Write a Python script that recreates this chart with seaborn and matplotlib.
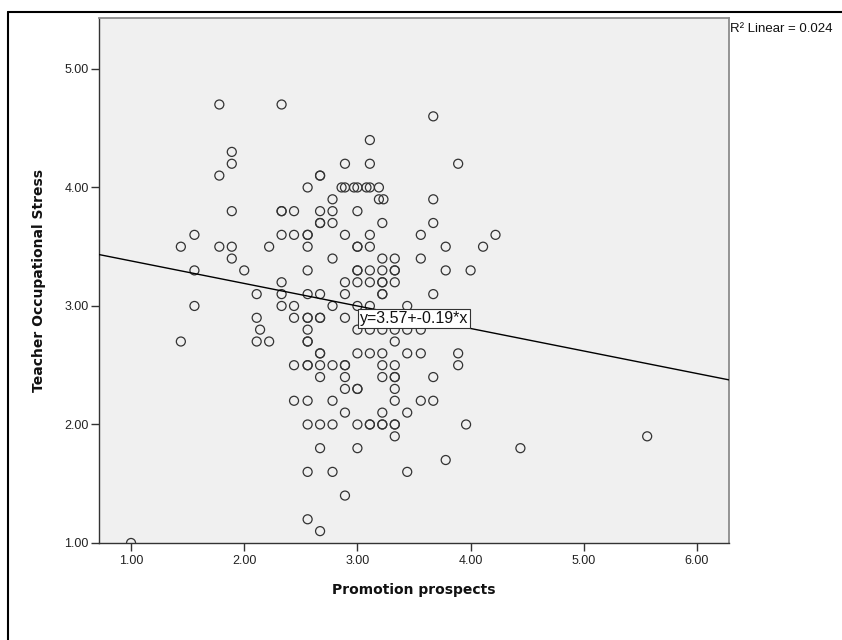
# -*- coding: utf-8 -*-
"""
Scatter plot of Promotion prospects vs Teacher Occupational Stress
with a linear fit line (SPSS-like look).
"""

import numpy as np
import matplotlib.pyplot as plt
from matplotlib.lines import Line2D
import seaborn as sns

# Points, one line per stress level
promotion = [
    1.78, 2.33,
    3.67,
    3.11,
    1.89,
    1.89, 2.89, 3.11, 3.89,
    1.78, 2.67, 2.67,
    2.56, 2.86, 2.89, 2.97, 3.00, 3.08, 3.11, 3.19,
    2.78, 3.19, 3.23, 3.67,
    1.89, 2.33, 2.33, 2.44, 2.67, 2.78, 3.00,
    2.67, 2.67, 2.78, 3.22, 3.67,
    1.56, 2.33, 2.44, 2.56, 2.56, 2.89, 3.11, 3.56, 4.22,
    1.44, 1.78, 1.89, 2.22, 2.56, 3.00, 3.00, 3.11, 3.78, 4.11,
    1.89, 2.78, 3.22, 3.33, 3.56,
    1.56, 2.00, 2.56, 3.00, 3.00, 3.11, 3.22, 3.33, 3.33, 3.78, 4.00,
    2.33, 2.89, 3.00, 3.11, 3.22, 3.22, 3.33,
    2.11, 2.33, 2.56, 2.67, 2.89, 3.22, 3.22, 3.67,
    1.56, 2.33, 2.44, 2.78, 3.00, 3.11, 3.44,
    2.11, 2.44, 2.56, 2.56, 2.67, 2.67, 2.89,
    2.14, 2.56, 3.00, 3.11, 3.22, 3.33, 3.44, 3.56,
    1.44, 2.11, 2.22, 2.56, 2.56, 3.33,
    2.67, 2.67, 3.00, 3.11, 3.22, 3.44, 3.56, 3.89,
    2.44, 2.56, 2.56, 2.67, 2.78, 2.89, 2.89, 3.22, 3.33, 3.89,
    2.67, 2.89, 3.22, 3.33, 3.33, 3.67,
    2.89, 3.00, 3.00, 3.33,
    2.44, 2.56, 2.78, 3.33, 3.56, 3.67,
    2.89, 3.22, 3.44,
    2.56, 2.67, 2.78, 3.00, 3.11, 3.11, 3.22, 3.22, 3.33, 3.33, 3.96,
    3.33, 5.56,
    2.67, 3.00, 4.44,
    3.78,
    2.56, 2.78, 3.44,
    2.89,
    2.56,
    2.67,
    1.00,
]

stress = [
    4.7, 4.7,
    4.6,
    4.4,
    4.3,
    4.2, 4.2, 4.2, 4.2,
    4.1, 4.1, 4.1,
    4.0, 4.0, 4.0, 4.0, 4.0, 4.0, 4.0, 4.0,
    3.9, 3.9, 3.9, 3.9,
    3.8, 3.8, 3.8, 3.8, 3.8, 3.8, 3.8,
    3.7, 3.7, 3.7, 3.7, 3.7,
    3.6, 3.6, 3.6, 3.6, 3.6, 3.6, 3.6, 3.6, 3.6,
    3.5, 3.5, 3.5, 3.5, 3.5, 3.5, 3.5, 3.5, 3.5, 3.5,
    3.4, 3.4, 3.4, 3.4, 3.4,
    3.3, 3.3, 3.3, 3.3, 3.3, 3.3, 3.3, 3.3, 3.3, 3.3, 3.3,
    3.2, 3.2, 3.2, 3.2, 3.2, 3.2, 3.2,
    3.1, 3.1, 3.1, 3.1, 3.1, 3.1, 3.1, 3.1,
    3.0, 3.0, 3.0, 3.0, 3.0, 3.0, 3.0,
    2.9, 2.9, 2.9, 2.9, 2.9, 2.9, 2.9,
    2.8, 2.8, 2.8, 2.8, 2.8, 2.8, 2.8, 2.8,
    2.7, 2.7, 2.7, 2.7, 2.7, 2.7,
    2.6, 2.6, 2.6, 2.6, 2.6, 2.6, 2.6, 2.6,
    2.5, 2.5, 2.5, 2.5, 2.5, 2.5, 2.5, 2.5, 2.5, 2.5,
    2.4, 2.4, 2.4, 2.4, 2.4, 2.4,
    2.3, 2.3, 2.3, 2.3,
    2.2, 2.2, 2.2, 2.2, 2.2, 2.2,
    2.1, 2.1, 2.1,
    2.0, 2.0, 2.0, 2.0, 2.0, 2.0, 2.0, 2.0, 2.0, 2.0, 2.0,
    1.9, 1.9,
    1.8, 1.8, 1.8,
    1.7,
    1.6, 1.6, 1.6,
    1.4,
    1.2,
    1.1,
    1.0,
]

# Fit line as printed on the chart
intercept = 3.57
slope = -0.19
fit_label = "y=3.57+-0.19*x"
r2_label = "R\u00b2 Linear = 0.024"

x_ticks = [1, 2, 3, 4, 5, 6]
y_ticks = [1, 2, 3, 4, 5]
x_tick_labels = ["1.00", "2.00", "3.00", "4.00", "5.00", "6.00"]
y_tick_labels = ["1.00", "2.00", "3.00", "4.00", "5.00"]

X_LIM = (0.717, 6.283)
Y_LIM = (1.0, 5.43)


def setup_style():
    """Seaborn style first, then fonts (set_style resets font.family)."""
    sns.set_style("ticks", {"axes.facecolor": "#f0f0f0"})
    plt.rcParams['font.family'] = ['Liberation Sans', 'DejaVu Sans']


def plot_scatter():
    assert len(promotion) == len(stress)
    setup_style()

    fig = plt.figure(figsize=(8.42, 6.4), dpi=100)
    ax = fig.add_axes([0.1176, 0.1516, 0.7482, 0.8203])

    sns.scatterplot(x=promotion, y=stress, ax=ax, marker='o', s=42,
                    color='#333333', facecolor='none', edgecolor='#333333',
                    linewidth=0.9, zorder=3)

    # Linear fit across the full x range
    xs = np.array(X_LIM)
    ax.plot(xs, intercept + slope * xs, color='black', linewidth=1.0, zorder=4)

    ax.text(3.02, 2.895, fit_label, fontsize=11.5, ha='left', va='center',
            color='#111111', zorder=6,
            bbox=dict(boxstyle='square,pad=0.12', fc='white', ec='#333333', lw=0.8))

    ax.set_xlim(*X_LIM)
    ax.set_ylim(*Y_LIM)
    ax.set_xticks(x_ticks)
    ax.set_xticklabels(x_tick_labels)
    ax.set_yticks(y_ticks)
    ax.set_yticklabels(y_tick_labels)
    ax.tick_params(axis='both', direction='out', length=6, width=1,
                   color='#333333', labelsize=9, labelcolor='#222222')
    ax.tick_params(axis='y', pad=1.5)
    ax.tick_params(axis='x', pad=3)

    for side in ['left', 'bottom']:
        ax.spines[side].set_color('#333333')
        ax.spines[side].set_linewidth(1.0)
    for side in ['top', 'right']:
        ax.spines[side].set_visible(True)
        ax.spines[side].set_color('#8c8c8c')
        ax.spines[side].set_linewidth(1.3)

    ax.set_xlabel('Promotion prospects', fontsize=10, fontweight='bold',
                  family='DejaVu Sans', color='#111111')
    ax.set_ylabel('Teacher Occupational Stress', fontsize=10, fontweight='bold',
                  family='DejaVu Sans', color='#111111')
    ax.xaxis.label.set_va('center')
    ax.yaxis.label.set_va('center')
    ax.xaxis.set_label_coords(0.5, -0.0895)
    ax.yaxis.set_label_coords(-0.095, 0.5)

    fig.text(0.867, 0.9547, r2_label, fontsize=9.5, ha='left', va='center',
             color='#111111')

    # Outer chart frame (left and top edges)
    fig.add_artist(Line2D([0.0095, 0.0095], [0.0, 0.981],
                          transform=fig.transFigure, color='black', lw=1.5))
    fig.add_artist(Line2D([0.0095, 1.0], [0.981, 0.981],
                          transform=fig.transFigure, color='black', lw=1.5))

    fig.savefig('out.png', dpi=100)


if __name__ == '__main__':
    plot_scatter()
